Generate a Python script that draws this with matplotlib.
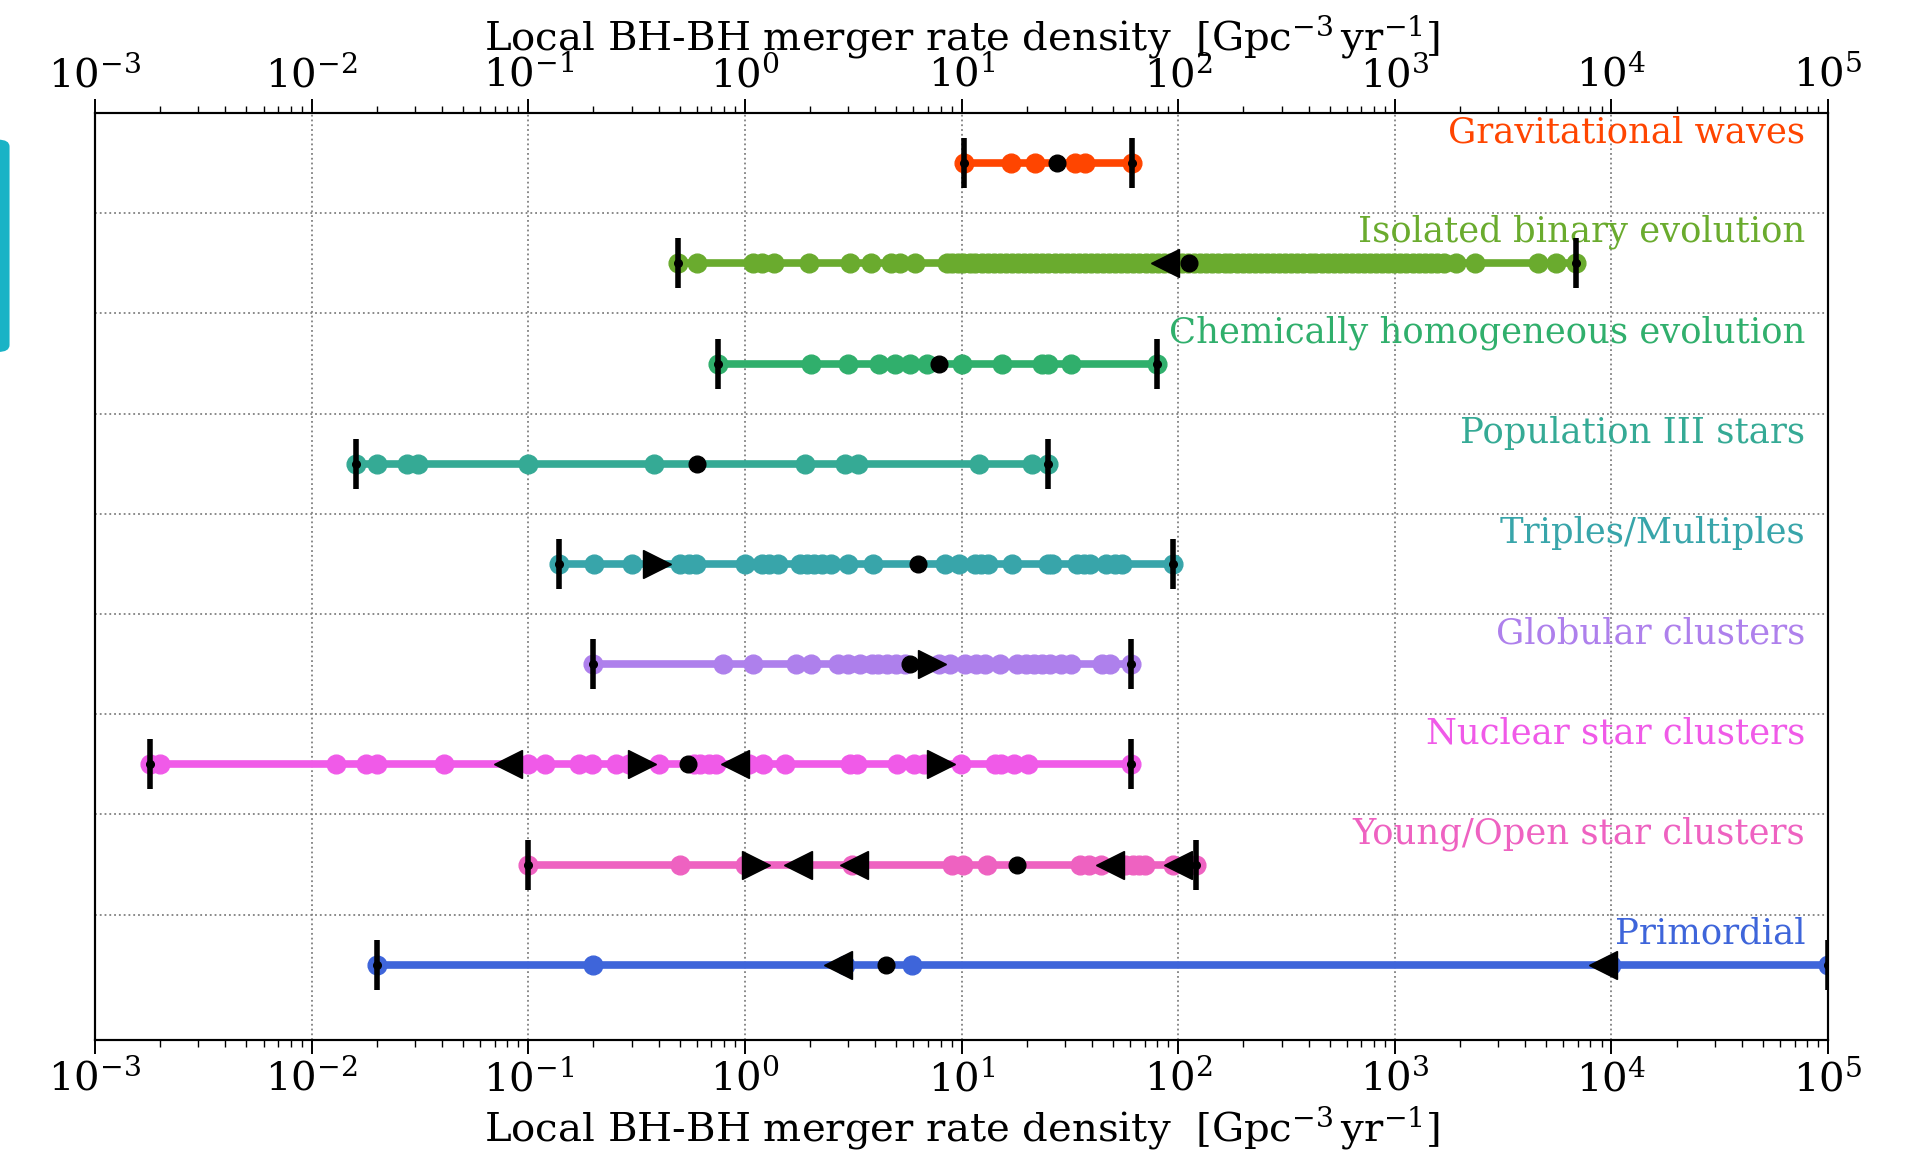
import numpy as np
import matplotlib.pyplot as plt
from matplotlib.patches import FancyBboxPatch

plt.rcParams['font.family'] = 'DejaVu Serif'
plt.rcParams['mathtext.fontset'] = 'dejavuserif'

# channel names, top to bottom
labels = ['Gravitational waves', 'Isolated binary evolution',
          'Chemically homogeneous evolution', 'Population III stars',
          'Triples/Multiples', 'Globular clusters', 'Nuclear star clusters',
          'Young/Open star clusters', 'Primordial']
colors = ['#FF4500', '#6AAB2E', '#30AF6C', '#35AA95', '#38A5AA',
          '#AE80EC', '#F05AE8', '#EE62C1', '#3E65DA']

# rate estimates per channel [Gpc^-3 yr^-1]
gw_pts = [10.3, 16.9, 21.9, 33.3, 37.2, 61.4]
iso_pts = [0.49, 0.60, 1.09, 1.2, 1.36, 1.98, 3.06, 3.83, 4.73, 5.2, 6.1, 8.6,
           9.0, 9.6, 10.2, 10.9, 11.6, 12.4, 13.2, 14.1, 15.0, 16.0, 17.1,
           18.2, 19.4, 20.7, 22.1, 23.6, 25.2, 26.9, 28.7, 30.6, 32.6, 34.8,
           37.1, 39.6, 42.2, 45.0, 48.0, 51.2, 54.6, 58.3, 62.2, 66.3, 70.7,
           75.4, 80.4, 85.8, 91.5, 97.6, 104, 111, 118, 126, 135, 144, 153,
           164, 174, 186, 199, 212, 226, 241, 257, 274, 292, 312, 333, 355,
           378, 404, 430, 459, 490, 522, 557, 594, 634, 676, 721, 769, 820,
           875, 933, 995, 1060, 1130, 1210, 1290, 1380, 1470, 1570, 1690,
           1920, 2350, 4590, 5560, 6870]
che_pts = [0.748, 2.02, 3.0, 4.17, 4.94, 5.8, 6.94, 10.0, 15.3, 23.6, 25.0,
           31.9, 79.6]
pop3_pts = [0.016, 0.020, 0.0277, 0.031, 0.1, 0.381, 1.89, 2.90, 3.33, 12.0,
            21.1, 25.0]
trip_pts = [0.139, 0.201, 0.301, 0.50, 0.55, 0.595, 1.0, 1.2, 1.29, 1.42, 1.80,
            1.93, 2.08, 2.28, 2.51, 2.99, 3.90, 8.42, 9.71, 11.5, 12.3, 13.2,
            17.1, 25.1, 26.3, 34.1, 36.6, 39.3, 46.4, 51.0, 54.8, 95]
gc_pts = [0.2, 0.79, 1.09, 1.72, 2.01, 2.69, 2.99, 3.4, 3.85, 4.13, 4.54, 4.99,
          5.5, 7.9, 8.81, 10.4, 11.7, 12.9, 15, 18.0, 19.8, 21.7, 23.5, 25.7,
          28.9, 32, 44.3, 48.7, 60.3]
nsc_pts = [0.0018, 0.002, 0.013, 0.0179, 0.020, 0.041, 0.100, 0.120, 0.171,
           0.197, 0.253, 0.292, 0.402, 0.58, 0.62, 0.68, 0.736, 1.05, 1.21,
           1.53, 3.06, 3.29, 5.04, 6.01, 6.69, 9.9, 14.2, 15.2, 17.5, 20.2, 60.8]
ysc_pts = [0.10, 0.50, 1.0, 3.11, 9.0, 10.2, 13.1, 35.2, 38.8, 44.0, 57, 62.1,
           66, 70.3, 94.6, 121]
prim_pts = [0.02, 0.2, 2.9, 5.93, 1e4, 1e5]

# black markers: median, lower limits (>) and upper limits (<)
medians = [27.5, 112, 7.83, 0.604, 6.33, 5.76, 0.546, 18.0, 4.46]
lower_lims = [[], [], [], [], [0.394], [7.29], [0.336, 8.0], [1.13], []]
upper_lims = [[], [87], [], [], [], [], [0.081, 0.90], [1.76, 3.18, 48.5, 99.4],
              [2.68, 9160]]

all_pts = [gw_pts, iso_pts, che_pts, pop3_pts, trip_pts, gc_pts, nsc_pts,
           ysc_pts, prim_pts]

fig = plt.figure(figsize=(19.11, 11.54), dpi=100)
ax = fig.add_axes([0.0497, 0.0988, 0.9069, 0.8033])

n = len(labels)
for i in range(n):
    y = n - 1 - i
    pts = sorted(all_pts[i])
    c = colors[i]
    ax.plot(pts, [y] * len(pts), '-o', color=c, lw=5.5, ms=13.5, mec=c,
            mew=1.0, zorder=2)
    ends = [pts[0], pts[-1]]
    ax.plot(ends, [y, y], '|', color='k', ms=36, mew=4, zorder=4)
    ax.plot(ends, [y, y], 'o', color='k', ms=5.5, zorder=5)
    ax.plot([medians[i]], [y], 'o', color='k', ms=12, zorder=5)
    if lower_lims[i]:
        ax.plot(lower_lims[i], [y] * len(lower_lims[i]), '>', color='k',
                ms=20, zorder=5)
    if upper_lims[i]:
        ax.plot(upper_lims[i], [y] * len(upper_lims[i]), '<', color='k',
                ms=20, zorder=5)
    ax.text(0.987, y + 0.31, labels[i], color=c, fontsize=25.5, ha='right',
            va='center', transform=ax.get_yaxis_transform())

ax.set_xscale('log')
ax.set_xlim(1e-3, 1e5)
ax.set_ylim(-0.75, n - 0.5)
ax.set_yticks(np.arange(0.5, n - 1, 1.0))
ax.set_yticklabels([])
ax.tick_params(axis='y', length=0)
ax.grid(True, which='major', ls=':', color='grey', lw=1.3)

xlabel = r'Local BH-BH merger rate density  $[\mathrm{Gpc}^{-3}\,\mathrm{yr}^{-1}]$'

ax2 = ax.twiny()
ax2.set_xscale('log')
ax2.set_xlim(1e-3, 1e5)
for a in (ax, ax2):
    a.tick_params(axis='x', which='major', labelsize=29, length=10, width=1.4)
    a.tick_params(axis='x', which='minor', length=5, width=1.0)
    for s in a.spines.values():
        s.set_linewidth(1.5)

ax.set_xlabel(xlabel, fontsize=29)
ax.xaxis.set_label_coords(0.5, -0.094)
ax.xaxis.label.set_va('center')
ax2.set_xlabel(xlabel, fontsize=29)
ax2.xaxis.set_label_coords(0.5, 1.082)
ax2.xaxis.label.set_va('center')

# partial cyan box at the left edge of the screenshot
box = FancyBboxPatch((-0.02, 0.695), 0.025, 0.184,
                     boxstyle='round,pad=0,rounding_size=0.006',
                     transform=fig.transFigure, facecolor='#19B3C6',
                     edgecolor='none')
fig.patches.append(box)

fig.savefig('out.png', dpi=100)
